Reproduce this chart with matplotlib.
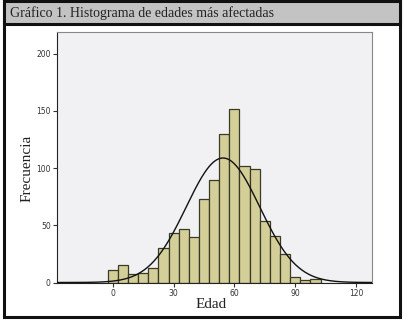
import matplotlib.pyplot as plt
import numpy as np
from matplotlib.patches import Rectangle

# centros de clase (edad) y frecuencias
edades = [0, 5, 10, 15, 20, 25, 30, 35, 40, 45, 50, 55, 60, 65, 70, 75, 80, 85, 90, 95, 100]
frecuencias = [11, 15, 7, 8, 13, 30, 43, 47, 40, 73, 90, 130, 152, 102, 99, 54, 41, 25, 5, 2, 3]
ancho_clase = 5
xticks = [0, 30, 60, 90, 120]
yticks = [0, 50, 100, 150, 200]
titulo = 'Gráfico 1. Histograma de edades más afectadas'

W, H = 404, 322
fig = plt.figure(figsize=(W / 100, H / 100), dpi=100)
fig.patch.set_facecolor('white')

# marco exterior y barra de titulo
def px_rect(x0, y0, x1, y1, **kw):
    fig.patches.append(Rectangle((x0 / W, 1 - y1 / H), (x1 - x0) / W, (y1 - y0) / H,
                                 transform=fig.transFigure, figure=fig, **kw))

px_rect(4, 1, 400, 317, facecolor='none', edgecolor='#111111', linewidth=2.2)
px_rect(4, 1, 400, 24, facecolor='#c3c3c3', edgecolor='#111111', linewidth=2.2)
fig.text(10 / W, 1 - 13 / H, titulo, family='Liberation Serif', fontsize=10,
         color='#222222', va='center', ha='left')

ax = fig.add_axes([57 / W, 1 - 282.5 / H, (372.3 - 57) / W, (282.5 - 32) / H])
ax.set_facecolor('#f1f1f3')

ax.bar(edades, frecuencias, width=ancho_clase, color='#d4cf98',
       edgecolor='#3a3a28', linewidth=0.9, zorder=2)

# curva normal con media y desviacion de los datos
x_arr = np.array(edades, dtype=float)
f_arr = np.array(frecuencias, dtype=float)
n = f_arr.sum()
media = (x_arr * f_arr).sum() / n
sd = np.sqrt((f_arr * (x_arr - media) ** 2).sum() / n)
xs = np.linspace(-27.5, 128, 400)
ys = n * ancho_clase * np.exp(-0.5 * ((xs - media) / sd) ** 2) / (sd * np.sqrt(2 * np.pi))
ax.plot(xs, ys, color='#111111', linewidth=1.0, zorder=3)

ax.set_xlim(-27.5, 128)
ax.set_ylim(0, 219)
ax.set_xticks(xticks)
ax.set_yticks(yticks)
ax.tick_params(labelsize=5.5, length=3, width=0.8, colors='#333333', pad=1.5)
for s in ['top', 'right']:
    ax.spines[s].set_color('#888888')
for s in ['left', 'bottom']:
    ax.spines[s].set_color('#222222')

fig.text(27.5 / W, 1 - 168 / H, 'Frecuencia', family='Liberation Serif', fontsize=11,
         rotation=90, ha='center', va='center', color='#222222')
fig.text(211 / W, 1 - 304 / H, 'Edad', family='Liberation Serif', fontsize=11,
         ha='center', va='center', color='#222222')

fig.savefig('out.png', dpi=100)
